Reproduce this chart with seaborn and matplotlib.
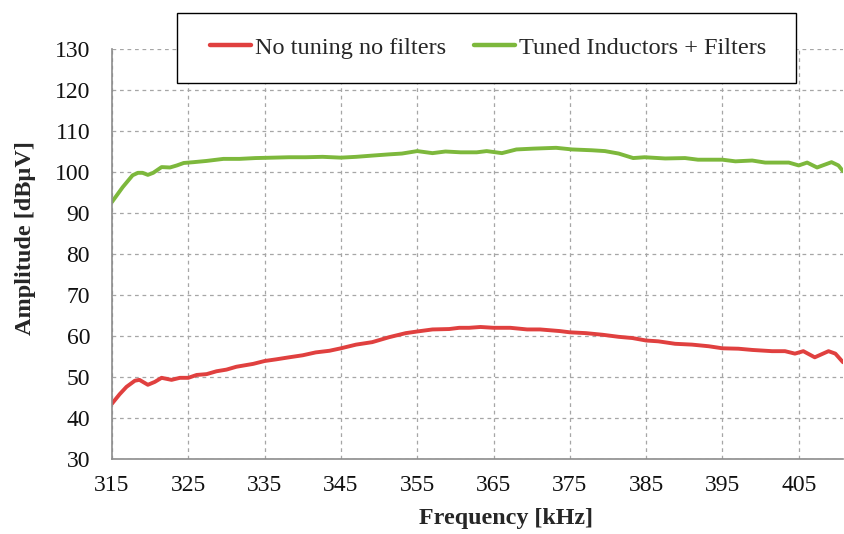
import matplotlib
matplotlib.use("Agg")
import matplotlib.pyplot as plt
from matplotlib.patches import Rectangle
import seaborn as sns
import pandas as pd

# ---- data ----
freq_red = [315, 316, 316.9, 318, 318.6, 319.7, 320.6, 321.5, 322.8, 323.9, 325, 326.1, 327.4,
            328.7, 330, 331.3, 333.5, 335, 336.5, 338.2, 340, 341.7, 343.5, 345, 347, 349.1,
            351.3, 353.5, 355, 357, 359.2, 360.5, 361.8, 363.3, 365, 367.2, 369.4, 371.1,
            373.7, 375, 377.1, 379.3, 381.4, 383.2, 385, 386.6, 388.8, 391, 393.2, 395,
            397.1, 398.9, 401.5, 403.2, 404.5, 405.6, 407.1, 408.9, 409.8, 410.8]
amp_red = [43.5, 45.8, 47.6, 49.1, 49.3, 48.1, 48.8, 49.8, 49.3, 49.8, 49.8, 50.5, 50.7,
           51.4, 51.8, 52.5, 53.2, 53.9, 54.3, 54.8, 55.3, 56.0, 56.4, 57.0, 57.9, 58.5,
           59.7, 60.7, 61.1, 61.6, 61.7, 62.0, 62.0, 62.2, 62.0, 62.0, 61.6, 61.6,
           61.2, 60.9, 60.7, 60.3, 59.8, 59.5, 58.9, 58.7, 58.1, 57.9, 57.5, 57.0,
           56.9, 56.6, 56.3, 56.3, 55.7, 56.3, 54.8, 56.3, 55.7, 53.6]

freq_green = [315, 316.4, 317.7, 318.4, 319, 319.7, 320.4, 321.5, 322.6, 323.5, 324.4, 325.7,
              327.4, 329.6, 331.7, 333.8, 336.1, 338.2, 340.4, 342.6, 345, 347, 349.1, 351.3,
              353, 355, 357, 358.7, 360.7, 362.8, 364.1, 366.1, 368, 370.2, 373.2, 375.3,
              377.9, 379.6, 381.4, 383.3, 384.8, 387.5, 390.1, 391.8, 395, 396.7, 398.9,
              400.6, 403.7, 405, 406.1, 407.4, 409.3, 410.2, 410.8]
amp_green = [92.7, 96.3, 99.2, 99.8, 99.8, 99.3, 99.8, 101.2, 101.1, 101.6, 102.2, 102.4,
             102.7, 103.2, 103.2, 103.4, 103.5, 103.6, 103.6, 103.7, 103.5, 103.7, 104.0, 104.3,
             104.5, 105.1, 104.6, 105.0, 104.8, 104.8, 105.1, 104.6, 105.5, 105.7, 105.9, 105.5,
             105.3, 105.1, 104.5, 103.4, 103.6, 103.3, 103.4, 103.0, 103.0, 102.6, 102.8,
             102.3, 102.3, 101.6, 102.3, 101.1, 102.4, 101.6, 100.2]

series_names = ["No tuning no filters", "Tuned Inductors + Filters"]
x_ticks = [315, 325, 335, 345, 355, 365, 375, 385, 395, 405]
y_ticks = [30, 40, 50, 60, 70, 80, 90, 100, 110, 120, 130]

df = pd.concat([
    pd.DataFrame({"Frequency": freq_red, "Amplitude": amp_red, "Series": series_names[0]}),
    pd.DataFrame({"Frequency": freq_green, "Amplitude": amp_green, "Series": series_names[1]}),
])

sns.set_theme(style="white")
plt.rcParams["font.family"] = ["Liberation Serif", "DejaVu Serif"]

W, H = 845, 534
fig = plt.figure(figsize=(W / 100, H / 100), dpi=100)
ax = fig.add_axes([112 / W, (H - 459) / H, (843 - 112) / W, (459 - 49) / H])

palette = {series_names[0]: "#E0403F", series_names[1]: "#7DB83C"}
sns.lineplot(data=df, x="Frequency", y="Amplitude", hue="Series", palette=palette,
             linewidth=2.8, ax=ax, sort=True, estimator=None)

ax.set_xlim(315, 410.8)
ax.set_ylim(30, 130)
ax.set_xticks(x_ticks)
ax.set_yticks(y_ticks)
ax.grid(True, linestyle=(0, (3, 3)), color="#A6A6A6", linewidth=0.9)
ax.set_axisbelow(True)

for s in ["top", "right"]:
    ax.spines[s].set_visible(False)
for s in ["left", "bottom"]:
    ax.spines[s].set_color("#8C8C8C")
    ax.spines[s].set_linewidth(1.2)

ax.tick_params(axis="both", which="major", labelsize=17, labelcolor="#111111",
               color="#8C8C8C", length=10, width=1.0, direction="inout")
ax.tick_params(axis="y", pad=10.8)
ax.tick_params(axis="x", pad=6.5)

ax.set_xlabel("Frequency [kHz]", fontsize=17.3, fontweight="bold")
ax.set_ylabel("Amplitude [dBµV]", fontsize=17.5, fontweight="bold")
ax.xaxis.set_label_coords(506 / W, 1 - 508 / H, transform=fig.transFigure)
ax.yaxis.set_label_coords(36 / W, 1 - 238 / H, transform=fig.transFigure)

handles, labels = ax.get_legend_handles_labels()
ax.get_legend().remove()

# legend frame box
box = Rectangle((176.7 / W, 1 - 82.7 / H), (795.7 - 176.7) / W, (82.7 - 13.3) / H,
                transform=fig.transFigure, facecolor="white", edgecolor="black",
                linewidth=1.0, zorder=3)
fig.patches.append(box)

leg = fig.legend(handles, labels, loc="center",
                 bbox_to_anchor=(488 / W, 1 - 47.5 / H), bbox_transform=fig.transFigure,
                 ncol=2, fontsize=17.5, frameon=False, borderpad=0.0,
                 handlelength=1.71, handletextpad=0.15, columnspacing=1.15)
leg.set_zorder(5)
for line in leg.get_lines():
    line.set_linewidth(3.2)

fig.savefig("out.png", dpi=100)
